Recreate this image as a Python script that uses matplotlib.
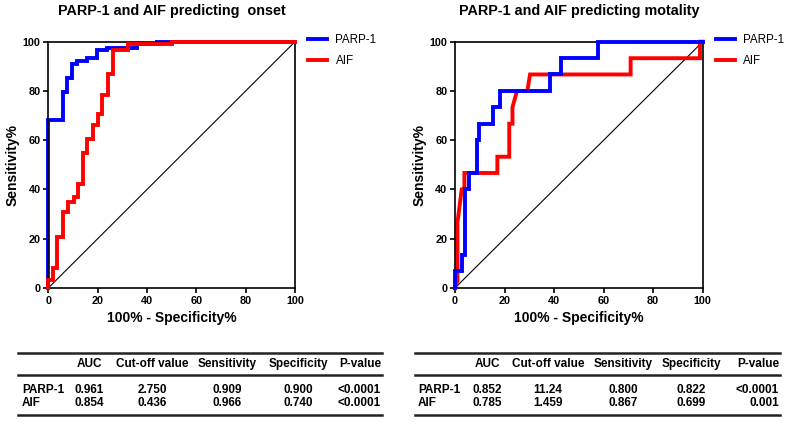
import matplotlib
matplotlib.use("Agg")
import matplotlib.pyplot as plt
from matplotlib.lines import Line2D

plt.rcParams['font.family'] = ['Liberation Sans', 'DejaVu Sans']

# ---------------- data ----------------
titles = ["PARP-1 and AIF predicting  onset", "PARP-1 and AIF predicting motality"]
series_names = ["PARP-1", "AIF"]
ticks = [0, 20, 40, 60, 80, 100]

# onset ROC (100% - specificity, sensitivity)
onset_parp_fpr = [0, 0, 6.1, 6.1, 7.4, 7.4, 9.5, 9.5, 11.8, 11.8, 15.5, 15.5, 19.6, 19.6,
                  23.6, 23.6, 35.8, 35.8, 44, 44, 100]
onset_parp_tpr = [0, 68.2, 68.2, 79.7, 79.7, 85.1, 85.1, 90.8, 90.8, 92.2, 92.2, 93.2, 93.2, 96.6,
                  96.6, 97.6, 97.6, 98.9, 98.9, 100, 100]
onset_aif_fpr = [0, 0, 2, 2, 3.6, 3.6, 5.8, 5.8, 7.8, 7.8, 10.4, 10.4, 11.9, 11.9, 13.9, 13.9,
                 15.8, 15.8, 18, 18, 20.3, 20.3, 21.9, 21.9, 24.1, 24.1, 26.1, 26.1, 32.2, 32.2,
                 50, 50, 100]
onset_aif_tpr = [0, 3.4, 3.4, 8.1, 8.1, 20.7, 20.7, 30.7, 30.7, 35.1, 35.1, 36.9, 36.9, 42.3,
                 42.3, 54.7, 54.7, 60.5, 60.5, 66, 66, 70.7, 70.7, 78.4, 78.4, 86.8, 86.8, 96.6,
                 96.6, 98.9, 98.9, 100, 100]

# mortality ROC
mort_parp_fpr = [0, 0, 2.7, 2.7, 4, 4, 5.8, 5.8, 8.7, 8.7, 9.8, 9.8, 15.5, 15.5, 18.2, 18.2,
                 38.4, 38.4, 42.7, 42.7, 57.9, 57.9, 100]
mort_parp_tpr = [0, 6.7, 6.7, 13.3, 13.3, 40, 40, 46.7, 46.7, 60, 60, 66.7, 66.7, 73.3, 73.3, 80,
                 80, 86.7, 86.7, 93.3, 93.3, 100, 100]
mort_aif_fpr = [0, 1, 1, 2.7, 3.8, 3.8, 17.1, 17.1, 21.9, 21.9, 23.2, 23.2, 25, 29.2, 30.3,
                70.9, 70.9, 98.9, 98.9, 100]
mort_aif_tpr = [0, 3, 26.7, 40, 40, 46.7, 46.7, 53.3, 53.3, 66.7, 66.7, 73.3, 80, 80, 86.7,
                86.7, 93.3, 93.3, 100, 100]

table_header = ["AUC", "Cut-off value", "Sensitivity", "Specificity", "P-value"]
onset_rows = ["PARP-1", "AIF"]
onset_table = [["0.961", "2.750", "0.909", "0.900", "<0.0001"],
               ["0.854", "0.436", "0.966", "0.740", "<0.0001"]]
mort_rows = ["PARP-1", "AIF"]
mort_table = [["0.852", "11.24", "0.800", "0.822", "<0.0001"],
              ["0.785", "1.459", "0.867", "0.699", "0.001"]]

# ---------------- figure ----------------
W, H = 787, 426
fig = plt.figure(figsize=(W / 100, H / 100), dpi=100)

BLUE = "#0000ff"
RED = "#ff0000"


def make_axes(x0, x1, title, curves, red_on_top, title_cx):
    b = 1 - 288 / H
    t = 1 - 41.7 / H
    ax = fig.add_axes([x0 / W, b, (x1 - x0) / W, t - b])
    ax.set_xlim(0, 100)
    ax.set_ylim(0, 100)
    (pf, pt), (af, at) = curves
    zb, zr = (2, 3) if red_on_top else (3, 2)
    ax.plot([0, 100], [0, 100], color="black", lw=0.8, zorder=1)
    ax.plot(pf, pt, color=BLUE, lw=2.8, zorder=zb, label=series_names[0], clip_on=False,
            solid_joinstyle="miter")
    ax.plot(af, at, color=RED, lw=2.8, zorder=zr, label=series_names[1], clip_on=False,
            solid_joinstyle="miter")
    for s in ax.spines.values():
        s.set_linewidth(1.2)
    ax.set_xticks(ticks)
    ax.set_yticks(ticks)
    ax.tick_params(direction="out", length=3.5, width=1.2, labelsize=7.8, pad=2,
                   top=False, right=False)
    for lab in ax.get_xticklabels() + ax.get_yticklabels():
        lab.set_fontweight("bold")
    ax.set_xlabel("100% - Specificity%", fontsize=10, fontweight="bold", labelpad=4)
    ax.set_ylabel("Sensitivity%", fontsize=10, fontweight="bold", labelpad=2)
    fig.text(title_cx / W, 1 - 11 / H, title, fontsize=10.4, fontweight="bold",
             ha="center", va="center")
    ax.legend(loc="upper left", bbox_to_anchor=(1.053, 1.03), frameon=False,
              fontsize=8.4, handlelength=1.65, handletextpad=0.7, labelspacing=0.75,
              borderpad=0, borderaxespad=0)
    return ax


make_axes(48.3, 295, titles[0], ((onset_parp_fpr, onset_parp_tpr), (onset_aif_fpr, onset_aif_tpr)),
          True, 172)
make_axes(455, 702.7, titles[1], ((mort_parp_fpr, mort_parp_tpr), (mort_aif_fpr, mort_aif_tpr)),
          False, 579)


def draw_table(xl, xr, label_x, col_cx, rows, values):
    for y in (352.7, 374.5, 415):
        fig.add_artist(Line2D([xl / W, xr / W], [1 - y / H, 1 - y / H], color="#222222", lw=1.8))
    fs = 8.5
    for j, h in enumerate(table_header):
        if j == len(table_header) - 1:
            fig.text((xr - 1) / W, 1 - 364 / H, h, fontsize=fs, fontweight="bold",
                     ha="right", va="center")
        else:
            fig.text(col_cx[j] / W, 1 - 364 / H, h, fontsize=fs, fontweight="bold",
                     ha="center", va="center")
    for i, (r, vals) in enumerate(zip(rows, values)):
        y = 1 - (390 + 13 * i) / H
        fig.text(label_x / W, y, r, fontsize=fs, fontweight="bold", ha="left", va="center")
        for j, v in enumerate(vals):
            if j == len(vals) - 1:
                fig.text((xr - 1) / W, y, v, fontsize=fs, fontweight="bold",
                         ha="right", va="center")
            else:
                fig.text(col_cx[j] / W, y, v, fontsize=fs, fontweight="bold",
                         ha="center", va="center")


draw_table(18, 382, 22, [89, 152, 227, 298], onset_rows, onset_table)
draw_table(415, 780, 418, [487, 548, 623, 691], mort_rows, mort_table)

fig.savefig("out.png", dpi=100)
